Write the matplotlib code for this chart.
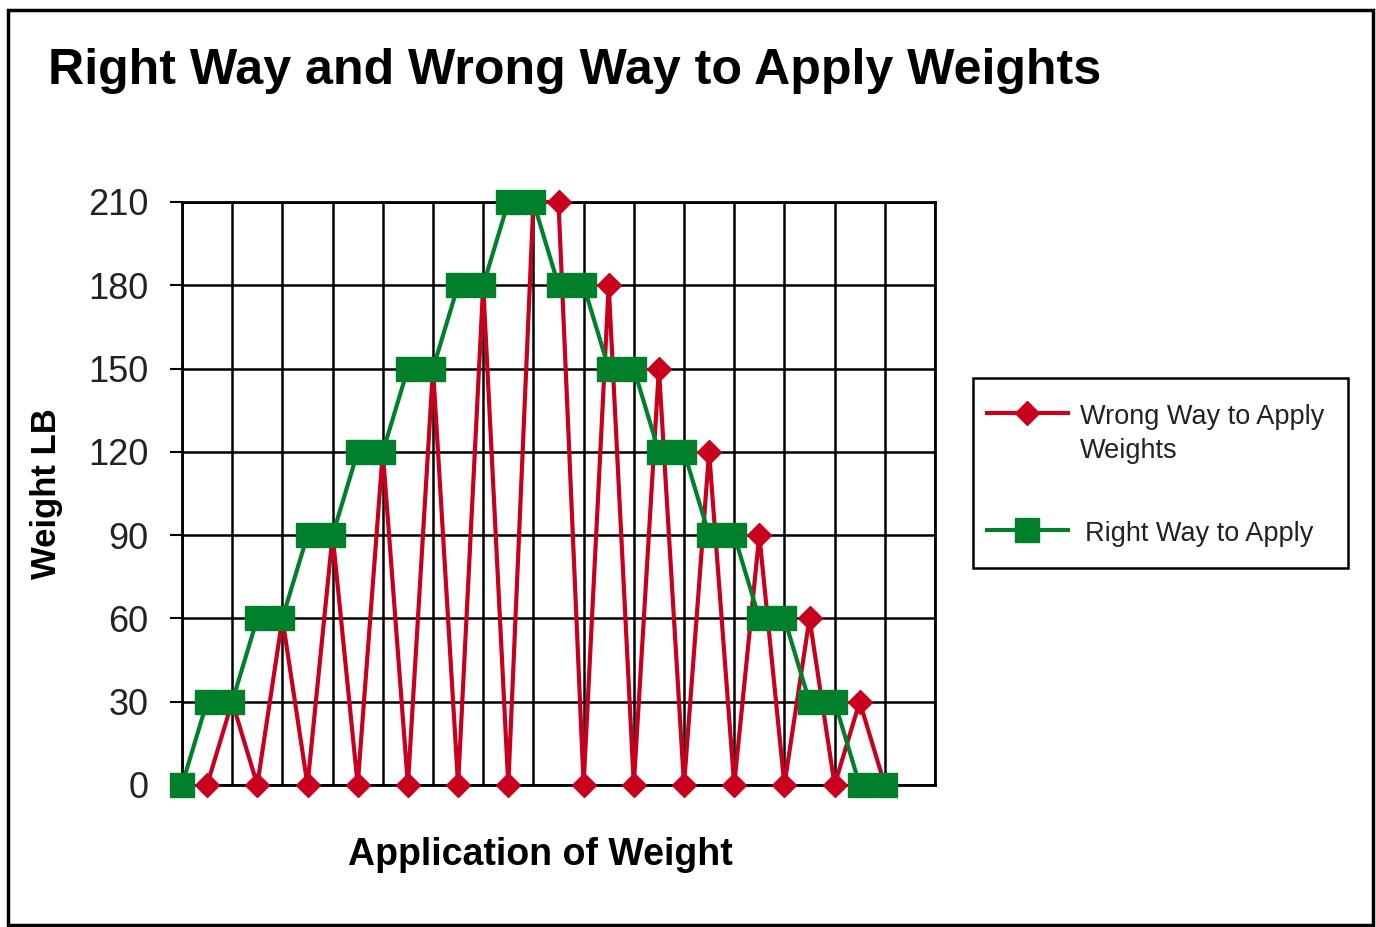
import matplotlib.pyplot as plt
from matplotlib.lines import Line2D
from matplotlib.patches import Rectangle

# step number along the session (category axis)
right_x = list(range(0, 29))
right_lb = [0, 30, 30, 60, 60, 90, 90, 120, 120, 150, 150, 180, 180, 210, 210,
            180, 180, 150, 150, 120, 120, 90, 90, 60, 60, 30, 30, 0, 0]

wrong_x = list(range(1, 29))
wrong_lb = [0, 30, 0, 60, 0, 90, 0, 120, 0, 150, 0, 180, 0, 210, 210,
            0, 180, 0, 150, 0, 120, 0, 90, 0, 60, 0, 30, 0]

y_ticks = [0, 30, 60, 90, 120, 150, 180, 210]
labels = ['Wrong Way to Apply\nWeights', 'Right Way to Apply']

red = '#C8001E'
green = '#00802A'

plt.rcParams['font.family'] = ['Liberation Sans', 'DejaVu Sans']

fig = plt.figure(figsize=(13.76, 9.27), dpi=100)
W, H = 1376, 927
ax = fig.add_axes([182 / W, 1 - 785 / H, (935 - 182) / W, (785 - 202) / H])

# lines first, markers on top (like the original)
ax.plot(wrong_x, wrong_lb, color=red, lw=3, zorder=3, clip_on=False)
ax.plot(right_x, right_lb, color=green, lw=3, zorder=3, clip_on=False)
ax.plot(wrong_x, wrong_lb, ls='none', marker='D', ms=12, color=red, zorder=4, clip_on=False)
ax.plot(right_x, right_lb, ls='none', marker='s', ms=17, color=green, zorder=5, clip_on=False)

ax.set_xlim(0, 30)
ax.set_ylim(0, 210)
ax.set_yticks(y_ticks)
ax.set_xticks(range(0, 31, 2))
ax.tick_params(axis='x', length=0, labelbottom=False)
ax.tick_params(axis='y', length=8.5, width=1.5, labelsize=26, pad=15.5, labelcolor='#222222')
ax.grid(True, color='black', lw=1.8)
ax.set_axisbelow(True)
for s in ax.spines.values():
    s.set_linewidth(2)
    s.set_color('black')

ax.set_ylabel('Weight LB', fontsize=25, fontweight='bold')
ax.yaxis.label.set_va('center')
ax.yaxis.set_label_coords((46 - 182) / (935 - 182), 0.5)
ax.set_xlabel('Application of Weight', fontsize=27, fontweight='bold')
ax.xaxis.label.set_va('center')
ax.xaxis.set_label_coords((540 - 182) / (935 - 182), -(855 - 785) / (785 - 202))

fig.text(48 / W, 1 - 71 / H, 'Right Way and Wrong Way to Apply Weights',
         fontsize=36.1, fontweight='bold', va='center', ha='left')

# legend box drawn by hand so the red marker sits on the first text line
fig.patches.append(Rectangle((973 / W, 1 - 568 / H), (1348 - 973) / W, (568 - 378) / H,
                             transform=fig.transFigure, fill=True, facecolor='white',
                             edgecolor='black', lw=1.8))
for col, mk, ms, yy, lab, tx in [(red, 'D', 12, 413, labels[0], 1080),
                                 (green, 's', 17, 530, labels[1], 1085)]:
    fig.lines.append(Line2D([987 / W, 1068 / W], [1 - yy / H, 1 - yy / H], color=col, lw=3,
                            transform=fig.transFigure))
    fig.lines.append(Line2D([1027 / W], [1 - yy / H], color=col, marker=mk, ms=ms, ls='none',
                            transform=fig.transFigure))
    fig.text(tx / W, 1 - (yy - 9) / H, lab, fontsize=19.5, va='top', ha='left',
             linespacing=1.38, color='#222222')

fig.patches.append(Rectangle((8 / W, 1 - 925 / H), (1373 - 8) / W, (925 - 10) / H,
                             transform=fig.transFigure, fill=False,
                             edgecolor='black', lw=2.5))

fig.savefig('out.png', dpi=100)
plt.close()
